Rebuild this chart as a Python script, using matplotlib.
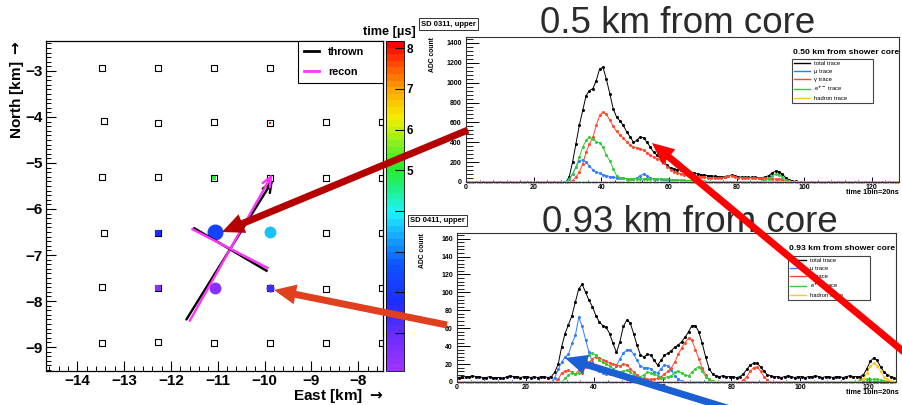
import numpy as np
import matplotlib.pyplot as plt
from matplotlib.colors import LinearSegmentedColormap, Normalize
from matplotlib.cm import ScalarMappable
from matplotlib.lines import Line2D
from matplotlib.patches import FancyArrow
from matplotlib.ticker import MultipleLocator

plt.rcParams['font.family'] = ['Liberation Sans', 'DejaVu Sans']
plt.rcParams['font.weight'] = 'bold'
plt.rcParams['mathtext.default'] = 'bf'

W, H = 902, 405

# ---------------- surface detector array (East, North in km) ----------------
station_east = [-13.47, -12.27, -11.08, -9.88, -8.68, -7.50,
                -13.43, -12.28, -11.08, -9.88, -8.68, -7.50,
                -13.48, -12.28, -11.08, -9.88, -8.68, -7.50,
                -13.44, -12.28, -11.08, -9.88, -8.68, -7.50,
                -13.48, -12.28, -11.08, -9.88, -8.68, -7.50,
                -13.48, -12.28, -11.08, -9.88, -8.68, -7.50]
station_north = [-2.93, -2.93, -2.93, -2.93, -2.93, -2.93,
                 -4.08, -4.13, -4.12, -4.13, -4.12, -4.12,
                 -5.31, -5.31, -5.32, -5.32, -5.33, -5.33,
                 -6.52, -6.52, -6.52, -6.52, -6.53, -6.52,
                 -7.70, -7.72, -7.72, -7.72, -7.73, -7.72,
                 -8.92, -8.89, -8.92, -8.92, -8.91, -8.92]

# stations with a signal
hit_east = [-11.06, -9.88, -11.06, -9.89, -12.28, -12.28, -11.08, -9.88]
hit_north = [-6.51, -6.51, -7.71, -7.71, -6.52, -7.72, -5.32, -4.13]
hit_time = [2.3, 3.5, 0.4, 1.5, 1.8, 0.5, 5.0, 8.0]      # µs
hit_signal = [100, 55, 55, 25, 14, 14, 8, 1.5]

# shower axis and shower front line, thrown and reconstructed
thrown_axis = [(-11.67, -8.40), (-9.82, -5.37)]
recon_axis = [(-11.60, -8.43), (-9.83, -5.24)]
thrown_front = [(-11.50, -6.42), (-9.96, -7.34)]
recon_front = [(-11.54, -6.44), (-9.94, -7.28)]

# ---------------- FADC traces, 128 bins of 20 ns ----------------
total_05 = [0] * 30 + [
    50, 200, 385, 570, 720, 870, 920, 940, 1020, 1140,
    1155, 1035, 890, 740, 655, 615, 570, 505, 455, 400,
    420, 455, 445, 400, 350, 300, 270, 235, 200, 170,
    140, 130, 125, 120, 110, 105, 95, 90, 80, 75,
    70, 65, 62, 60, 55, 50, 55, 65, 68, 60,
    50, 48, 47, 47, 48, 47, 45, 45, 50, 65,
    90, 110, 105, 80, 45, 20, 10, 6, 4, 2] + [0] * 28
mu_05 = [0] * 30 + [
    30, 80, 150, 215, 225, 200, 160, 125, 100, 90,
    75, 65, 55, 50, 45, 40, 38, 35, 32, 32,
    40, 65, 80, 65, 42, 35, 30, 28, 25, 25,
    22, 20, 18, 15, 10, 6, 4, 2] + [0] * 60
gamma_05 = [0] * 31 + [
    15, 50, 100, 185, 300, 385, 450, 570, 670,
    705, 680, 625, 560, 510, 475, 440, 405, 370, 350,
    345, 335, 320, 295, 270, 250, 235, 220, 190, 155,
    125, 105, 95, 85, 75, 70, 65, 60, 55, 50,
    48, 45, 45, 42, 40, 40, 48, 62, 65, 55,
    45, 43, 42, 42, 42, 42, 40, 40, 40, 38,
    35, 30, 28, 25, 15, 8, 4, 2] + [0] * 30
em_05 = [0] * 30 + [
    30, 80, 150, 250, 350, 420, 450, 435, 405, 395,
    350, 270, 215, 135, 65, 45, 40, 35, 32, 30,
    30, 32, 35, 35, 32, 30, 30, 28, 28, 27,
    25, 25, 22, 20, 18, 15, 12, 10, 8, 7,
    6, 5, 5, 5, 5, 5, 5, 5, 5, 5,
    5, 5, 5, 5, 5, 5, 5, 8, 15, 35,
    60, 80, 75, 55, 25, 10, 4] + [0] * 31
hadron_05 = [0] * 128

total_093 = [
    5, 6, 6, 6, 7, 6, 6, 5, 5, 6, 5, 5, 5, 4, 6, 7, 6, 6, 5, 6,
    6, 5, 6, 5, 6, 6, 5, 6, 11, 20, 39, 54, 64, 74, 89, 104, 109, 100, 91, 84,
    74, 67, 63, 61, 54, 43, 33, 45, 62, 69, 66, 54, 41, 30, 28, 31, 30, 24, 19, 24,
    30, 32, 35, 39, 41, 45, 50, 56, 63, 63, 56, 43, 28, 15, 9, 7, 6, 7, 6, 6,
    6, 5, 6, 9, 14, 19, 21, 21, 17, 12, 8, 7, 6, 6, 5, 6, 7, 6, 5, 6,
    6, 5, 6, 6, 7, 6, 5, 6, 6, 5, 6, 6, 5, 6, 7, 6, 6, 6, 8, 15,
    23, 27, 24, 17, 11, 8, 6, 5]
mu_093 = [0] * 28 + [
    5, 14, 22, 28, 31, 43, 52, 72, 62, 47,
    33, 22, 15, 12, 10, 9, 9, 12, 18, 26,
    32, 36, 36, 31, 24, 18, 16, 16, 15, 11,
    10, 15, 19, 18, 13, 7, 3, 1] + [0] * 62
gamma_093 = [0] * 29 + [
    3, 10, 12, 13, 11, 9, 13, 10, 17, 22, 26,
    28, 27, 25, 23, 21, 20, 19, 18, 20, 19,
    15, 11, 8, 5, 4, 3, 3, 3, 4, 6,
    9, 12, 16, 22, 31, 38, 44, 49, 47, 36,
    26, 16, 8, 3, 1, 0, 0, 0, 0, 0,
    0, 0, 0, 2, 6, 12, 16, 17, 12, 6, 2] + [0] * 37
em_093 = [0] * 31 + [
    4, 8, 10, 9, 10, 18, 25, 30, 32,
    30, 24, 22, 20, 18, 15, 12, 11, 12, 13,
    11, 8, 5, 6, 8, 11, 10, 9, 7, 5,
    5, 6, 7, 11, 12, 10, 8, 7, 11, 15,
    17, 12, 6, 3, 1] + [0] * 42 + [2, 3, 3, 3, 3, 3, 2, 1, 0, 0, 0]
hadron_093 = [0] * 118 + [3, 10, 18, 21, 18, 12, 6, 3, 1, 0]

trace_labels = ['total trace', 'μ trace', 'γ trace', 'e$^{+-}$ trace', 'hadron trace']
trace_colors = ['black', '#2f7dff', '#ff4a2a', '#36c936', '#ffc81a']

fig = plt.figure(figsize=(W / 100, H / 100), dpi=100)


def px_rect(x0, y0, x1, y1):
    return [x0 / W, 1 - y1 / H, (x1 - x0) / W, (y1 - y0) / H]


def fig_xy(x, y):
    return x / W, 1 - y / H


# ---------------- footprint map ----------------
tcmap = LinearSegmentedColormap.from_list('root_rainbow', [
    (0.00, '#9a35ff'), (0.10, '#6a2cff'), (0.20, '#1f2cff'), (0.32, '#0a55ff'),
    (0.42, '#18b8ff'), (0.48, '#1ef2ff'), (0.55, '#1ef08a'), (0.62, '#28ee28'),
    (0.70, '#90f020'), (0.77, '#f4f000'), (0.86, '#ffa400'), (0.93, '#ff5200'),
    (1.00, '#ff0000')]).resampled(50)
tnorm = Normalize(0.06, 8.18)

ax = fig.add_axes(px_rect(46, 41, 383, 371))
ax.scatter(station_east, station_north, marker='s', s=(5.2 * 0.72) ** 2,
           facecolor='white', edgecolor='black', linewidth=0.8, zorder=2)

hit_d = 1.6 * np.sqrt(hit_signal)          # marker diameter in px
for e, n, t, d in zip(hit_east, hit_north, hit_time, hit_d):
    col = tcmap(tnorm(t))
    if d >= 7:
        ax.scatter(e, n, marker='o', s=(d * 0.72) ** 2, color=col,
                   linewidth=0, zorder=3)
    else:
        ax.scatter(e, n, marker='s', s=(max(d, 2.5) * 0.72) ** 2, color=col,
                   linewidth=0, zorder=3)

for seg, col in [(thrown_axis, 'black'), (recon_axis, '#ff33ff')]:
    ax.annotate('', xy=seg[1], xytext=seg[0],
                arrowprops=dict(arrowstyle='->,head_length=0.7,head_width=0.3',
                                color=col, lw=1.7, shrinkA=0, shrinkB=0),
                zorder=4)
for seg, col in [(thrown_front, 'black'), (recon_front, '#ff33ff')]:
    ax.plot([seg[0][0], seg[1][0]], [seg[0][1], seg[1][1]], color=col, lw=1.8,
            zorder=4)

ax.set_xlim(-14.67, -7.47)
ax.set_ylim(-9.52, -2.35)
ax.xaxis.set_major_locator(MultipleLocator(1))
ax.xaxis.set_minor_locator(MultipleLocator(0.2))
ax.yaxis.set_major_locator(MultipleLocator(1))
ax.yaxis.set_minor_locator(MultipleLocator(0.1))
ax.tick_params(which='major', direction='in', length=7.5, width=0.8,
               labelsize=11, pad=2.5)
ax.tick_params(which='minor', direction='in', length=3.6, width=0.7)
for sp in ax.spines.values():
    sp.set_linewidth(0.9)

leg_handles = [Line2D([], [], color='black', lw=2), Line2D([], [], color='#ff33ff', lw=2)]
leg = ax.legend(leg_handles, ['thrown', 'recon'], loc='upper left',
                bbox_to_anchor=(0.748, 0.879, 0.252, 0.121), mode='expand',
                borderaxespad=0, fontsize=7.8, frameon=True, fancybox=False,
                framealpha=1, edgecolor='black', handlelength=1.4,
                handletextpad=0.8, labelspacing=0.95, borderpad=0.55)
leg.get_frame().set_linewidth(0.8)
leg.set_zorder(6)

fig.text(*fig_xy(17, 40), 'North [km] $\\rightarrow$', rotation=90, ha='center',
         va='top', fontsize=11)
fig.text(*fig_xy(383, 396), 'East [km] $\\rightarrow$', ha='right', va='center',
         fontsize=11)

cax = fig.add_axes(px_rect(386, 41, 404, 371))
cb = fig.colorbar(ScalarMappable(norm=tnorm, cmap=tcmap), cax=cax)
cb.set_ticks([1, 2, 3, 4, 5, 6, 7, 8])
cb.set_ticklabels(['', '', '', '', '5', '6', '7', '8'])
cax.tick_params(direction='in', length=6.5, width=0.8, labelsize=8.5, pad=2)
cb.outline.set_linewidth(0.6)
fig.text(*fig_xy(389, 32), 'time [µs]', ha='center', va='center', fontsize=9.2)


# ---------------- trace panels ----------------
def trace_panel(rect, series, ymax, ymajor, yminor, sd_box, big_title, leg_title,
                leg_box, ylabel_px):
    tax = fig.add_axes(px_rect(*rect))
    x = np.arange(128) + 0.5
    for vals, col in zip(series, trace_colors):
        tax.plot(x, vals, color=col, lw=0.7, marker='o', ms=2.2, mew=0,
                 clip_on=False)
    tax.set_xlim(0, 128)
    tax.set_ylim(0, ymax)
    tax.xaxis.set_major_locator(MultipleLocator(20))
    tax.xaxis.set_minor_locator(MultipleLocator(4))
    tax.yaxis.set_major_locator(MultipleLocator(ymajor))
    tax.yaxis.set_minor_locator(MultipleLocator(yminor))
    tax.tick_params(axis='y', which='major', direction='in', length=9, width=0.7,
                    labelsize=5, pad=3)
    tax.tick_params(axis='y', which='minor', direction='in', length=5, width=0.6)
    tax.tick_params(axis='x', which='major', direction='in', length=3.6, width=0.7,
                    labelsize=5, pad=1.5)
    tax.tick_params(axis='x', which='minor', direction='in', length=1.8, width=0.6)
    for sp in tax.spines.values():
        sp.set_linewidth(0.8)
        sp.set_color('#333333')

    handles = [Line2D([], [], color=c, lw=1.0) for c in trace_colors]
    lg = tax.legend(handles, trace_labels, loc='upper left', bbox_to_anchor=leg_box,
                    mode='expand', borderaxespad=0, fontsize=4.2, frameon=True,
                    fancybox=False, framealpha=1, edgecolor='#444444',
                    handlelength=2.6, handletextpad=0.8, labelspacing=0.45,
                    borderpad=0.4)
    lg.get_frame().set_linewidth(0.8)
    for t in lg.get_texts():
        t.set_fontweight('normal')

    x0, y0, x1, y1 = rect
    fig.text(*fig_xy(leg_box[0] * (x1 - x0) + x0 + 1, leg_title[1]), leg_title[0],
             ha='left', va='center', fontsize=6.1)
    fig.text(*fig_xy(ylabel_px[0], ylabel_px[1]), 'ADC count', rotation=90,
             ha='center', va='top', fontsize=4.9)
    fig.text(*fig_xy(899, y1 + 11), 'time 1bin=20ns', ha='right', va='center',
             fontsize=5.2)
    fig.text(*fig_xy(sd_box[0], sd_box[1]), sd_box[2], ha='left', va='center',
             fontsize=5.5, bbox=dict(boxstyle='square,pad=0.3', fc='white',
                                     ec='#333333', lw=0.7))
    fig.text(*fig_xy(big_title[0], big_title[1]), big_title[2], ha='left',
             va='baseline', fontsize=26.5, fontweight='normal', color='#2b2b2b')
    return tax


trace_panel((466, 37, 899, 182),
            [total_05, mu_05, gamma_05, em_05, hadron_05],
            1460, 200, 40, (421, 24, 'SD 0311, upper'),
            (540, 33, '0.5 km from core'), ('0.50 km from shower core', 52),
            (0.753, 0.566, 0.187, 0.282), (432, 37))

trace_panel((457, 233, 896, 382),
            [total_093, mu_093, gamma_093, em_093, hadron_093],
            166.3, 20, 4, (410, 220.5, 'SD 0411, upper'),
            (542, 232, '0.93 km from core'), ('0.93 km from shower core', 249),
            (0.754, 0.570, 0.187, 0.276), (423, 233))

# ---------------- pointer arrows ----------------
ov = fig.add_axes([0, 0, 1, 1])
ov.set_xlim(0, W)
ov.set_ylim(H, 0)
ov.axis('off')
ov.set_zorder(20)

pointer_tail = [(468, 130), (447, 325), (910, 357), (740, 412)]
pointer_tip = [(222, 232), (274, 290), (652, 143), (565, 358)]
pointer_color = ['#b50000', '#e0401e', '#ff0000', '#1a5fd4']
for (tx, ty), (hx, hy), col in zip(pointer_tail, pointer_tip, pointer_color):
    ov.add_patch(FancyArrow(tx, ty, hx - tx, hy - ty, width=7, head_width=20,
                            head_length=22, length_includes_head=True,
                            color=col, lw=0))

fig.savefig('out.png', dpi=100)
